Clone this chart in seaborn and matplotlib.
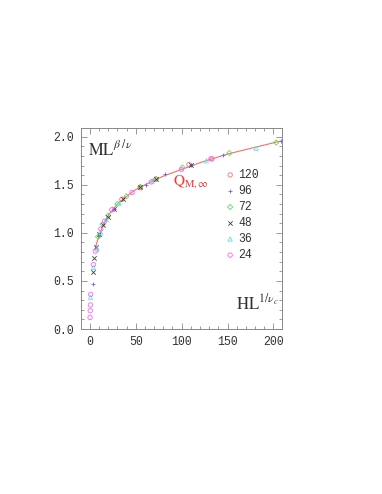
import numpy as np
import pandas as pd
import matplotlib
matplotlib.use("Agg")
import matplotlib.pyplot as plt
import seaborn as sns
from matplotlib.ticker import MultipleLocator

# scaled magnetisation vs scaled field, one series per lattice size L
x120 = [35, 55, 72, 108, 133]
y120 = [1.35, 1.47, 1.56, 1.71, 1.77]
x96 = [3, 10, 26, 61, 82, 110, 145, 208]
y96 = [0.47, 0.97, 1.25, 1.50, 1.61, 1.71, 1.81, 1.96]
x72 = [9, 14, 20, 30, 40, 55, 72, 101, 152, 203]
y72 = [0.96, 1.09, 1.18, 1.30, 1.38, 1.48, 1.56, 1.68, 1.83, 1.94]
x48 = [3, 5, 6.6, 10, 14, 20, 26, 36, 55, 72, 110]
y48 = [0.59, 0.74, 0.85, 0.99, 1.08, 1.17, 1.25, 1.35, 1.48, 1.56, 1.71]
x36 = [0.8, 4, 8, 12, 18, 32, 68, 127, 181]
y36 = [0.33, 0.64, 0.83, 1.00, 1.14, 1.31, 1.54, 1.75, 1.88]
x24 = [0.3, 0.5, 0.7, 1.0, 4, 6, 12, 16, 24, 46, 67, 100, 132]
y24 = [0.12, 0.19, 0.25, 0.36, 0.67, 0.81, 1.04, 1.12, 1.24, 1.42, 1.53, 1.66, 1.77]

# fitted scaling function Q_M,inf
x_fit = [6, 8, 10, 15, 20, 30, 40, 50, 60, 80, 100, 120, 150, 180, 210]
y_fit = [0.84, 0.91, 0.97, 1.09, 1.18, 1.30, 1.38, 1.45, 1.50, 1.59, 1.66, 1.73, 1.82, 1.89, 1.96]

sizes = ["120", "96", "72", "48", "36", "24"]
xs = [x120, x96, x72, x48, x36, x24]
ys = [y120, y96, y72, y48, y36, y24]
colors = ["#ff6a6a", "#5a6aff", "#5ae05a", "#404040", "#50e8e8", "#ff60ff"]
markers = ["o", "+", "D", "x", "^", "o"]
msizes = [10, 12, 7, 10, 9, 10]

sns.set_style("ticks")
plt.rcParams["font.family"] = ["Liberation Mono", "DejaVu Sans Mono"]
plt.rcParams["mathtext.fontset"] = "stix"

fig = plt.figure(figsize=(3.82, 4.94), dpi=100)
ax = fig.add_axes([0.211, 0.334, 0.5265, 0.4075])

sns.lineplot(x=x_fit, y=y_fit, ax=ax, color="#ff6a6a", lw=0.8, zorder=1)

for lab, x, y, c, m, s in zip(sizes, xs, ys, colors, markers, msizes):
    if m in ["x", "+"]:
        sns.scatterplot(x=x, y=y, ax=ax, marker=m, color=c, s=s,
                        linewidth=0.6, label=lab, zorder=3)
    else:
        sns.scatterplot(x=x, y=y, ax=ax, marker=m, color=c, facecolor="none",
                        edgecolor=c, s=s, linewidth=0.6, label=lab, zorder=3)

ax.set_xlim(-10, 209)
ax.set_ylim(0, 2.094)
ax.xaxis.set_major_locator(MultipleLocator(50))
ax.xaxis.set_minor_locator(MultipleLocator(10))
ax.yaxis.set_major_locator(MultipleLocator(0.5))
ax.yaxis.set_minor_locator(MultipleLocator(0.1))
ax.yaxis.set_major_formatter(matplotlib.ticker.FormatStrFormatter("%.1f"))
ax.tick_params(which="both", direction="in", top=True, right=True,
               color="#888888", labelsize=8.3, labelcolor="#333333", width=0.6)
ax.tick_params(which="major", length=4, pad=5)
ax.tick_params(which="minor", length=2)
for sp in ax.spines.values():
    sp.set_color("#888888")
    sp.set_linewidth(0.7)
ax.set_xlabel("")
ax.set_ylabel("")

ax.text(0.035, 0.864, r"$\mathrm{ML}^{\beta\ /\nu}$", transform=ax.transAxes,
        fontsize=12, color="#333333", va="baseline")
ax.text(0.773, 0.098, r"$\mathrm{HL}^{1/\nu_{\,c}}$", transform=ax.transAxes,
        fontsize=12, color="#333333", va="baseline")
ax.text(91, 1.50, r"$\mathrm{Q}_{\mathrm{M},\infty}$", fontsize=11,
        color="#ff3030", va="baseline")

leg = ax.legend(loc="upper left", bbox_to_anchor=(0.715, 0.795), frameon=False,
                fontsize=8.3, borderpad=0, labelspacing=0.35, handletextpad=0.2,
                handlelength=1.0, borderaxespad=0)
for t in leg.get_texts():
    t.set_color("#333333")

fig.savefig("out.png", dpi=100)
